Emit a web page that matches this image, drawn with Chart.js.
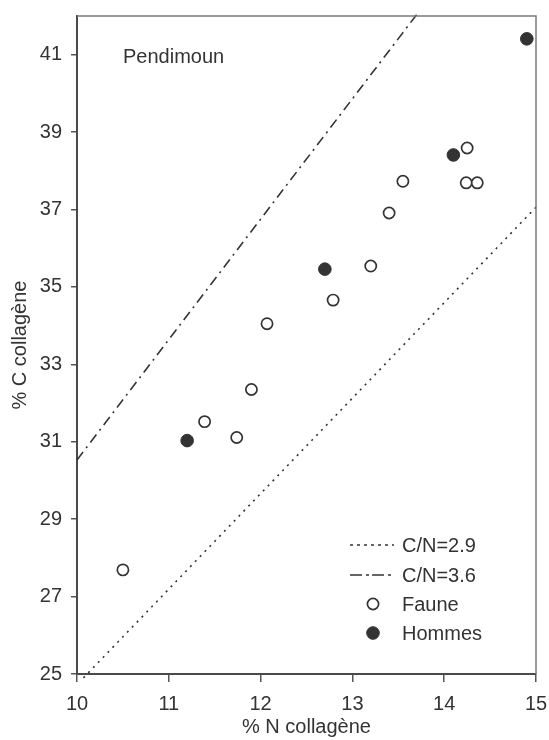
<!DOCTYPE html>
<html>
<head>
<meta charset="utf-8">
<script src="https://cdn.jsdelivr.net/npm/chart.js@4"></script>
<style>
  body { margin: 0; background: #fff; }
  canvas { display: block; }
</style>
</head>
<body>
<canvas id="chart" width="549" height="740"></canvas>
<script>
// values
const fauneN = [10.50, 11.39, 11.74, 11.90, 12.07, 12.79, 13.20, 13.40, 13.55, 14.25, 14.24, 14.36];
const fauneC = [27.69, 31.52, 31.11, 32.35, 34.05, 34.66, 35.54, 36.91, 37.73, 38.59, 37.69, 37.69];
const hommesN = [11.20, 12.70, 14.10, 14.90];
const hommesC = [31.03, 35.46, 38.41, 41.41];
// reference lines (ends as seen in the picture)
const cn29N = [10.07, 15.0];
const cn29C = [24.9, 37.06];
const cn36N = [10.0, 13.73];
const cn36C = [30.53, 42.13];

const xTicks = [10, 11, 12, 13, 14, 15];
const yTicks = [25, 27, 29, 31, 33, 35, 37, 39, 41];

const FONT = "'Liberation Sans', Arial, sans-serif";
const INK = '#333333';

const toPts = (xs, ys) => xs.map((x, i) => ({x: x, y: ys[i]}));

// legend + frame drawn inside the plot area
const boxPlugin = {
    id: 'box',
    afterDraw(chart) {
        const ctx = chart.ctx;
        const a = chart.chartArea;
        ctx.save();
        ctx.strokeStyle = '#7a7a7a';
        ctx.lineWidth = 1.5;
        ctx.beginPath();
        ctx.moveTo(a.left, a.top);
        ctx.lineTo(a.right, a.top);
        ctx.lineTo(a.right, a.bottom);
        ctx.stroke();

        ctx.font = '20px ' + FONT;
        ctx.textBaseline = 'middle';
        ctx.textAlign = 'left';
        ctx.fillStyle = INK;
        ctx.fillText('Pendimoun', 123, 57);

        const order = [2, 3, 0, 1];
        const rowY = [545, 575, 604, 633];
        order.forEach((di, r) => {
            const ds = chart.data.datasets[di];
            const y = rowY[r];
            if (ds.showLine) {
                ctx.strokeStyle = ds.borderColor;
                ctx.lineWidth = ds.borderWidth;
                ctx.setLineDash(ds.legendDash || ds.borderDash);
                ctx.beginPath();
                ctx.moveTo(350, y);
                ctx.lineTo(394, y);
                ctx.stroke();
                ctx.setLineDash([]);
            } else {
                ctx.beginPath();
                ctx.arc(373, y, ds.pointRadius, 0, Math.PI * 2);
                ctx.fillStyle = ds.backgroundColor;
                ctx.fill();
                ctx.strokeStyle = ds.borderColor;
                ctx.lineWidth = ds.borderWidth;
                ctx.stroke();
            }
            ctx.fillStyle = INK;
            ctx.fillText(ds.label, 402, y + 1);
        });
        ctx.restore();
    }
};

const ctx = document.getElementById('chart').getContext('2d');
new Chart(ctx, {
    type: 'scatter',
    data: {
        datasets: [
            {
                label: 'Faune',
                data: toPts(fauneN, fauneC),
                pointRadius: 5.6,
                pointHoverRadius: 5.6,
                borderWidth: 1.7,
                borderColor: INK,
                backgroundColor: '#ffffff'
            },
            {
                label: 'Hommes',
                data: toPts(hommesN, hommesC),
                pointRadius: 6.3,
                pointHoverRadius: 6.3,
                borderWidth: 1,
                borderColor: INK,
                backgroundColor: INK
            },
            {
                label: 'C/N=2.9',
                data: toPts(cn29N, cn29C),
                showLine: true,
                pointRadius: 0,
                borderColor: INK,
                borderWidth: 1.6,
                borderDash: [2, 5],
                legendDash: [3, 4],
                clip: false
            },
            {
                label: 'C/N=3.6',
                data: toPts(cn36N, cn36C),
                showLine: true,
                pointRadius: 0,
                borderColor: INK,
                borderWidth: 1.6,
                borderDash: [10, 5, 2, 5],
                legendDash: [12, 4, 3, 3],
                clip: false
            }
        ]
    },
    options: {
        responsive: false,
        animation: false,
        devicePixelRatio: 1,
        layout: { padding: { left: 0, right: 13, top: 16, bottom: 0 } },
        plugins: {
            legend: { display: false },
            tooltip: { enabled: false }
        },
        scales: {
            x: {
                type: 'linear',
                min: 10,
                max: 15,
                afterFit: s => { s.height = 66; s.paddingLeft = 0; s.paddingRight = 0; },
                afterBuildTicks: s => { s.ticks = xTicks.map(v => ({value: v})); },
                grid: { drawOnChartArea: false, drawTicks: true, tickLength: 8, color: '#555', lineWidth: 1.5 },
                border: { color: '#4a4a4a', width: 2 },
                ticks: { padding: 10, color: INK, font: { family: FONT, size: 20 } },
                title: {
                    display: true,
                    text: '% N collagène',
                    color: INK,
                    font: { family: FONT, size: 20 },
                    padding: { top: 0, bottom: 1 }
                }
            },
            y: {
                type: 'linear',
                min: 25,
                max: 42,
                afterFit: s => { s.width = 77; s.paddingTop = 0; s.paddingBottom = 0; },
                afterBuildTicks: s => { s.ticks = yTicks.map(v => ({value: v})); },
                grid: { drawOnChartArea: false, drawTicks: true, tickLength: 6, color: '#555', lineWidth: 1.5 },
                border: { color: '#4a4a4a', width: 2 },
                ticks: { padding: 9, color: INK, font: { family: FONT, size: 20 } },
                title: {
                    display: true,
                    text: '% C collagène',
                    color: INK,
                    font: { family: FONT, size: 20 },
                    padding: { top: 8, bottom: 0 }
                }
            }
        }
    },
    plugins: [boxPlugin]
});
</script>
</body>
</html>
